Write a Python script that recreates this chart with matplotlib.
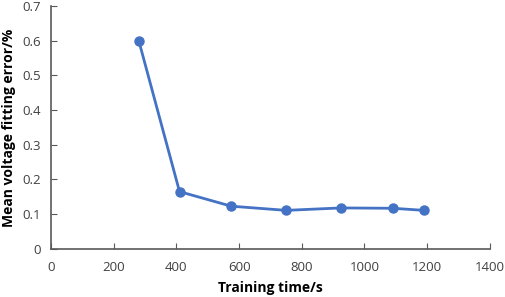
import matplotlib

matplotlib.use("Agg")
import matplotlib.pyplot as plt

plt.rcParams.update({"font.family": ["Open Sans", "DejaVu Sans"]})

TIME_S = [280, 410, 575, 750, 925, 1090, 1190]
ERROR_PCT = [0.600, 0.165, 0.123, 0.111, 0.118, 0.117, 0.111]

fig = plt.figure(figsize=(5.05, 2.97), dpi=100)
ax = fig.add_axes([0.101, 0.162, 0.869, 0.818])

ax.plot(TIME_S, ERROR_PCT, color="#4472C4", lw=2, marker="o", ms=6.5)

ax.set_xlim(0, 1400)
ax.set_ylim(0, 0.7)
ax.set_xticks(range(0, 1401, 200))
ax.set_yticks([0, 0.1, 0.2, 0.3, 0.4, 0.5, 0.6, 0.7])
ax.set_yticklabels(["0", "0.1", "0.2", "0.3", "0.4", "0.5", "0.6", "0.7"])

for side in ["top", "right"]:
    ax.spines[side].set_visible(False)
for side in ["left", "bottom"]:
    ax.spines[side].set_color("#595959")
    ax.spines[side].set_linewidth(1.2)
ax.tick_params(direction="in", length=4, color="#595959", labelsize=9.5, labelcolor="#404040")
ax.tick_params(axis="x", pad=9)
ax.tick_params(axis="y", pad=7)

ax.set_xlabel("Training time/s", fontsize=10, fontweight="bold", labelpad=5)
ax.set_ylabel("Mean voltage fitting error/%", fontsize=10, fontweight="bold", labelpad=5)

fig.savefig("out.png", dpi=100)
